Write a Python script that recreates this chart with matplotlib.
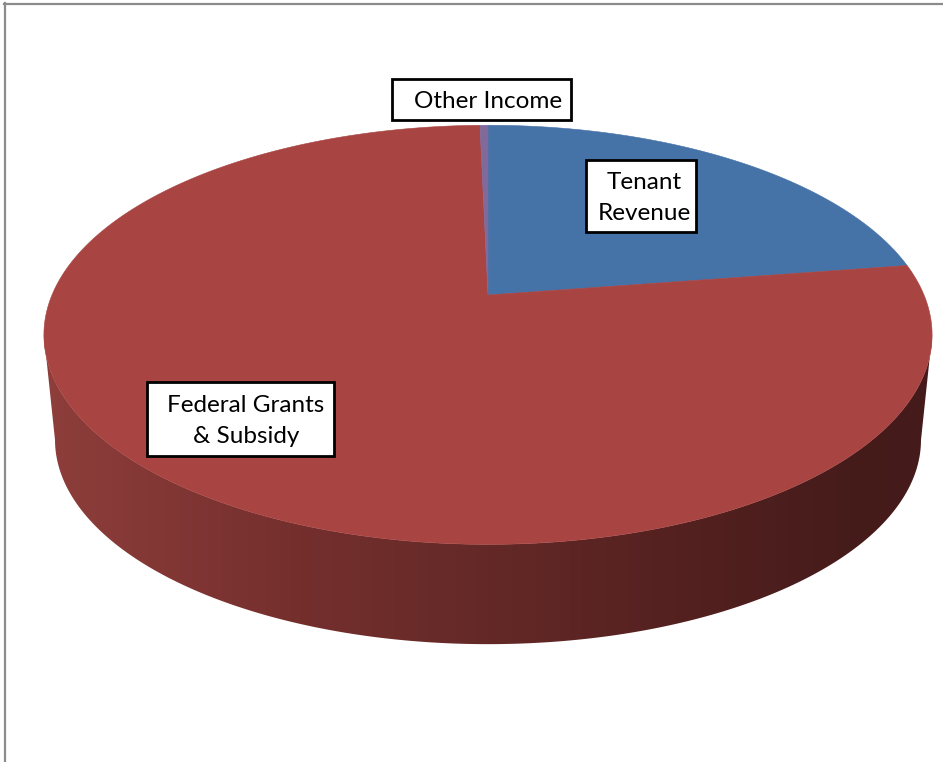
import numpy as np
import matplotlib.pyplot as plt
from matplotlib.patches import Polygon, Rectangle

# slice data (percent of revenue), drawn clockwise from 12 o'clock
labels = ["Tenant Revenue", "Federal Grants & Subsidy", "Other Income"]
label_text = ["Tenant\nRevenue", "Federal Grants\n& Subsidy", "Other Income"]
values = [22.6, 77.05, 0.35]
colors = ["#4572A7", "#A84442", "#80699B"]

# label boxes: (x0, y0, width, height) in pixels, text centre
label_boxes = [(586, 160, 110, 72), (147, 382, 187, 74), (392, 79, 179, 41)]
label_centres = [(644, 198), (246, 421), (488, 101)]

# pie geometry (pixels), with a simple perspective for the 3D look
CX, CY = 488, 295
A, K, E = 436, 202, 0.19
DEPTH, SC = 106, 0.975


def rim(phi_deg, drop=0.0, sc=1.0):
    p = np.radians(phi_deg)
    s = 1 + E * np.sin(p)
    x = CX + A * sc * np.cos(p) / s
    y = CY + drop - K * sc * np.sin(p) / s
    return x, y


fig = plt.figure(figsize=(9.43, 7.62), dpi=100)
ax = fig.add_axes([0, 0, 1, 1])
ax.axis("off")

# side wall of the cylinder, shaded light on the left to dark on the right
phis = np.linspace(191, 349, 300)
tx, ty = rim(phis)
bx, by = rim(phis[::-1], DEPTH, SC)
side = Polygon(np.column_stack([np.r_[tx, bx], np.r_[ty, by]]),
               closed=True, facecolor="none", edgecolor="none")
ax.add_patch(side)

stops_x = [44, 300, 488, 700, 850, 932]
stops_c = np.array([(142, 62, 59), (116, 47, 45), (100, 41, 39),
                    (82, 32, 31), (70, 28, 27), (68, 27, 26)]) / 255.0
gx = np.linspace(40, 936, 600)
grad = np.stack([np.interp(gx, stops_x, stops_c[:, i]) for i in range(3)], axis=-1)
img = ax.imshow(grad[np.newaxis, :, :], extent=(40, 936, 660, 320),
                aspect="auto", interpolation="bilinear")
img.set_clip_path(side)

# top face slices
start = 90.0
for val, col in zip(values, colors):
    sweep = val / sum(values) * 360.0
    ang = np.linspace(start, start - sweep, max(int(sweep * 2), 4))
    rx, ry = rim(ang)
    pts = np.column_stack([np.r_[CX, rx], np.r_[CY, ry]])
    ax.add_patch(Polygon(pts, closed=True, facecolor=col, edgecolor=col,
                         linewidth=0.4))
    start -= sweep

# data labels in white boxes
for txt, (x0, y0, w, h), (tx_, ty_) in zip(label_text, label_boxes, label_centres):
    ax.add_patch(Rectangle((x0, y0), w, h, facecolor="white",
                           edgecolor="black", linewidth=2, zorder=5))
    ax.text(tx_, ty_, txt, ha="center", va="center", multialignment="center",
            fontsize=17.5, family="Lato", color="black", zorder=6,
            linespacing=1.6)

# outer frame (only top and left visible)
ax.plot([4, 943], [3.5, 3.5], color="#8c8c8c", linewidth=1.6)
ax.plot([4.5, 4.5], [3, 762], color="#8c8c8c", linewidth=1.6)

ax.set_xlim(0, 943)
ax.set_ylim(762, 0)
ax.set_aspect("auto")

fig.savefig("out.png", dpi=100, facecolor="white")
